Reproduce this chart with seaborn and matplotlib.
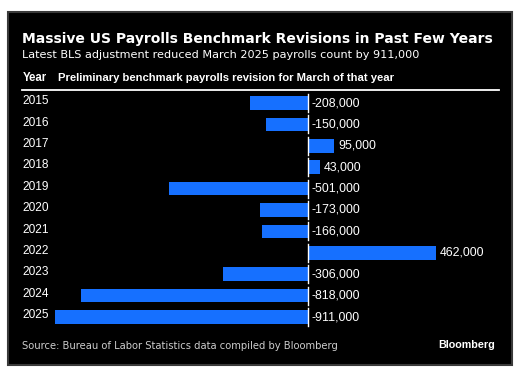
import matplotlib
matplotlib.use("Agg")
import matplotlib.pyplot as plt
import matplotlib.patches as mpatches
import matplotlib.transforms as mtransforms
import seaborn as sns
import pandas as pd

years = ["2015", "2016", "2017", "2018", "2019", "2020", "2021", "2022", "2023", "2024", "2025"]
revisions = [-208000, -150000, 95000, 43000, -501000, -173000, -166000, 462000, -306000, -818000, -911000]
labels = ["-208,000", "-150,000", "95,000", "43,000", "-501,000", "-173,000", "-166,000",
          "462,000", "-306,000", "-818,000", "-911,000"]

df = pd.DataFrame({"year": years, "rev": revisions})

W, H = 529, 381
fig = plt.figure(figsize=(W / 100, H / 100), dpi=100)
fig.patch.set_facecolor("white")

def fx(px):
    return px / W

def fy(py):
    return 1 - py / H

# black panel
panel = mpatches.Rectangle((fx(8), fy(365)), fx(512) - fx(8), fy(11.5) - fy(365),
                           transform=fig.transFigure, facecolor="black",
                           edgecolor="#3a3a3a", lw=1.5, zorder=-10)
fig.patches.append(panel)

# axes for bars
left_px, right_px = 22, 495
top_px, bot_px = 92.3, 327.7
ax = fig.add_axes([fx(left_px), fy(bot_px), fx(right_px) - fx(left_px), fy(top_px) - fy(bot_px)])
ax.set_facecolor("none")
ax.set_zorder(5)

zero_px = 308
px_per_unit = 0.2775 / 1000

sns.barplot(data=df, x="rev", y="year", orient="h", color="#1670ff", saturation=1,
            width=0.63, ax=ax, edgecolor="none")
ax.set_xlim((left_px - zero_px) / px_per_unit, (right_px - zero_px) / px_per_unit)
ax.set_ylim(len(years) - 0.5, -0.5)

for i, (v, lab) in enumerate(zip(revisions, labels)):
    ax.plot([0, 0], [i - 0.42, i + 0.42], color="white", lw=1.0, zorder=5)
    xpos = max(v, 0)
    ax.annotate(lab, (xpos, i), xytext=(2.6, 0), textcoords="offset points",
                color="white", fontsize=8.9, family="Liberation Sans", va="center", ha="left")

ytrans = mtransforms.blended_transform_factory(fig.transFigure, ax.transData)
for i, y in enumerate(years):
    ax.text(fx(22), i - 0.08, y, transform=ytrans, color="white", fontsize=8.6,
            family="Liberation Sans", va="center", ha="left")

ax.set_xticks([])
ax.set_yticks([])
ax.set_xlabel("")
ax.set_ylabel("")
for s in ax.spines.values():
    s.set_visible(False)

renderer = fig.canvas.get_renderer()

def fit_text(x0, y0, x1, txt, size, **kw):
    t = fig.text(fx(x0), fy(y0), txt, fontsize=size, va="center", ha="left", **kw)
    w = t.get_window_extent(renderer).width
    t.set_fontsize(size * (x1 - x0) / w)
    return t

fit_text(22.5, 39, 489, "Massive US Payrolls Benchmark Revisions in Past Few Years", 11,
         color="white", fontweight="bold", family="DejaVu Sans")
fit_text(22.5, 55, 422, "Latest BLS adjustment reduced March 2025 payrolls count by 911,000", 9,
         color="white", family="DejaVu Sans")
fig.text(fx(22.5), fy(78), "Year", color="white", fontsize=8.3, fontweight="bold",
         family="Liberation Sans", va="center", ha="left")
fit_text(57.5, 78, 394, "Preliminary benchmark payrolls revision for March of that year", 8.5,
         color="white", fontweight="bold", family="Liberation Sans")
fig.add_artist(plt.Line2D([fx(22), fx(499)], [fy(90), fy(90)], transform=fig.transFigure,
                          color="white", lw=1.3))

fit_text(22.5, 346, 341, "Source: Bureau of Labor Statistics data compiled by Bloomberg", 8,
         color="#cccccc", family="DejaVu Sans")
fit_text(438, 345, 495, "Bloomberg", 8.5, color="white", fontweight="bold",
         family="Liberation Sans")

fig.savefig("out.png", dpi=100, facecolor="white")
